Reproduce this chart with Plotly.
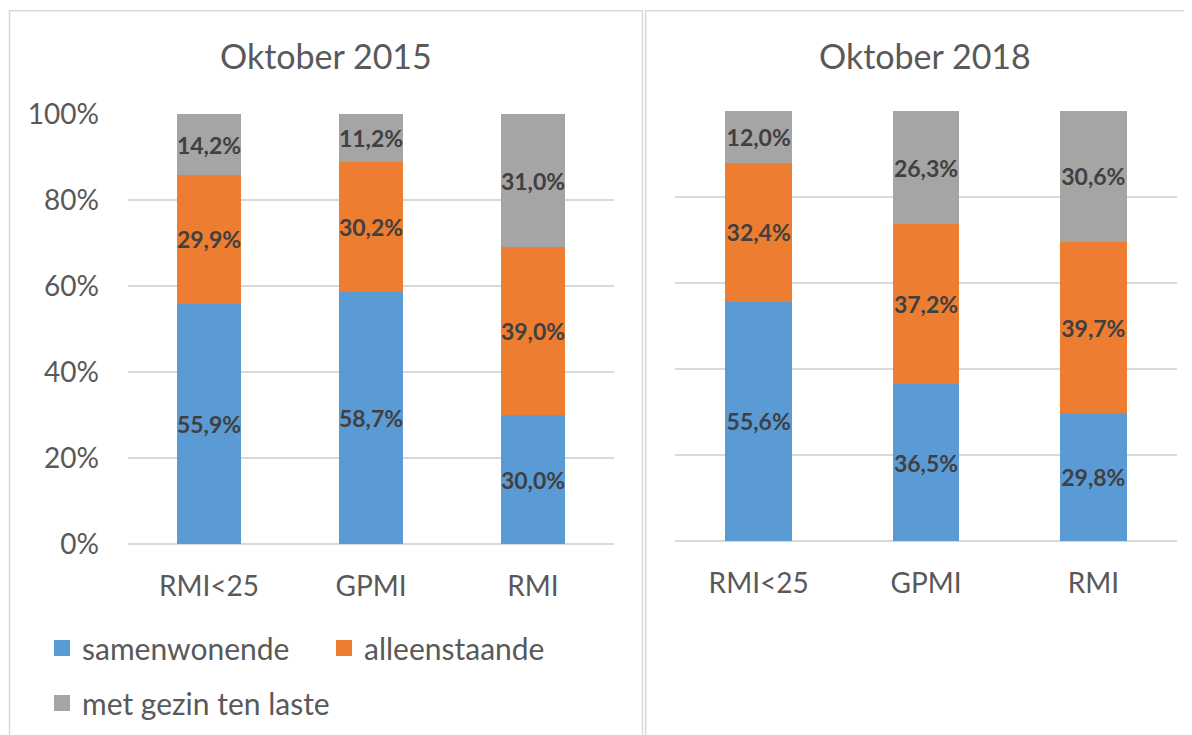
import plotly.graph_objects as go

# ---------------- data ----------------
categories = ["RMI<25", "GPMI", "RMI"]
series_names = ["samenwonende", "alleenstaande", "met gezin ten laste"]
panel_titles = ["Oktober 2015", "Oktober 2018"]

samenwonende_2015 = [55.9, 58.7, 30.0]
alleenstaande_2015 = [29.9, 30.2, 39.0]
gezin_2015 = [14.2, 11.2, 31.0]

samenwonende_2018 = [55.6, 36.5, 29.8]
alleenstaande_2018 = [32.4, 37.2, 39.7]
gezin_2018 = [12.0, 26.3, 30.6]

y_tick_values = [0, 20, 40, 60, 80, 100]
y_tick_labels = ["0%", "20%", "40%", "60%", "80%", "100%"]

# ---------------- style ----------------
colors = ["#5B9BD5", "#ED7D31", "#A5A5A5"]
FONT = "Lato"
TXT = "#595959"
LBL = "#404040"
GRID = "#D9D9D9"
W, H = 1192, 735
OFF = 8  # page body margin


def px_x(v):
    return (v - OFF) / W


def px_y(v):
    return 1 - (v - OFF) / H


def fmt(v):
    return f"{v:.1f}%".replace(".", ",")


fig = go.Figure()

data_2015 = [samenwonende_2015, alleenstaande_2015, gezin_2015]
data_2018 = [samenwonende_2018, alleenstaande_2018, gezin_2018]

bar_text_style = dict(textposition="inside", insidetextanchor="middle", textangle=0,
                      constraintext="none",
                      textfont=dict(family=FONT, size=23, color=LBL, weight="bold"))

for name, vals, col in zip(series_names, data_2015, colors):
    fig.add_trace(go.Bar(
        x=categories, y=vals, name=name, marker=dict(color=col, line=dict(width=0)),
        text=[fmt(v) for v in vals], xaxis="x", yaxis="y", showlegend=False,
        hoverinfo="skip", **bar_text_style,
    ))
for name, vals, col in zip(series_names, data_2018, colors):
    fig.add_trace(go.Bar(
        x=categories, y=vals, name=name, marker=dict(color=col, line=dict(width=0)),
        text=[fmt(v) for v in vals], xaxis="x2", yaxis="y2", showlegend=False,
        hoverinfo="skip", **bar_text_style,
    ))

# legend entries (square swatches)
for i, (name, col) in enumerate(zip(series_names, colors)):
    fig.add_trace(go.Scatter(
        x=[None], y=[None], mode="markers", name=name,
        marker=dict(symbol="square", size=18, color=col),
        legend="legend" if i < 2 else "legend2", xaxis="x", yaxis="y",
    ))

axis_common = dict(showline=False, ticks="", fixedrange=True, automargin=False)

fig.update_layout(
    width=W, height=H,
    margin=dict(l=0, r=0, t=0, b=0, autoexpand=False),
    paper_bgcolor="white", plot_bgcolor="white",
    barmode="stack",
    font=dict(family=FONT, color=TXT),
    uniformtext=dict(minsize=23, mode="show"),
    xaxis=dict(domain=[px_x(128), px_x(614)], type="category", categoryorder="array",
               categoryarray=categories, tickfont=dict(size=28, color=TXT),
               ticklabelstandoff=23, **axis_common),
    yaxis=dict(domain=[px_y(544), px_y(114)], range=[0, 100], tickvals=y_tick_values,
               ticktext=y_tick_labels, tickfont=dict(size=28, color=TXT),
               showgrid=True, gridcolor=GRID, gridwidth=1.5, zeroline=True,
               zerolinecolor=GRID, zerolinewidth=1.5, ticklabelstandoff=28, **axis_common),
    xaxis2=dict(domain=[px_x(675), px_x(1177)], type="category", categoryorder="array",
                categoryarray=categories, tickfont=dict(size=28, color=TXT),
                ticklabelstandoff=23, anchor="y2", **axis_common),
    yaxis2=dict(domain=[px_y(541), px_y(111)], range=[0, 100], tickvals=y_tick_values,
                showticklabels=False, showgrid=True, gridcolor=GRID, gridwidth=1.5,
                zeroline=True, zerolinecolor=GRID, zerolinewidth=1.5, anchor="x2",
                **axis_common),
    bargap=0.6,
    legend=dict(orientation="h", x=px_x(42), xanchor="left", y=px_y(648), yanchor="middle",
                font=dict(size=30, color=TXT), entrywidth=237, entrywidthmode="pixels",
                itemsizing="trace", traceorder="normal", bgcolor="rgba(0,0,0,0)"),
    legend2=dict(orientation="h", x=px_x(42), xanchor="left", y=px_y(703), yanchor="middle",
                 font=dict(size=30, color=TXT), itemsizing="trace", traceorder="normal",
                 bgcolor="rgba(0,0,0,0)"),
    showlegend=True,
)

# panel titles
for title, cx in zip(panel_titles, [326, 925]):
    fig.add_annotation(text=title, x=px_x(cx), y=px_y(55), xref="paper", yref="paper",
                       xanchor="center", yanchor="middle", showarrow=False,
                       font=dict(family=FONT, size=34, color=TXT))

# panel borders
fig.add_shape(type="rect", xref="paper", yref="paper", x0=px_x(9.5), x1=px_x(642.5),
              y0=-0.2, y1=px_y(10.7), line=dict(color=GRID, width=1.5), layer="below")
fig.add_shape(type="rect", xref="paper", yref="paper", x0=px_x(645.7), x1=1.2,
              y0=-0.2, y1=px_y(10.7), line=dict(color=GRID, width=1.5), layer="below")

fig.write_html("out.html")
